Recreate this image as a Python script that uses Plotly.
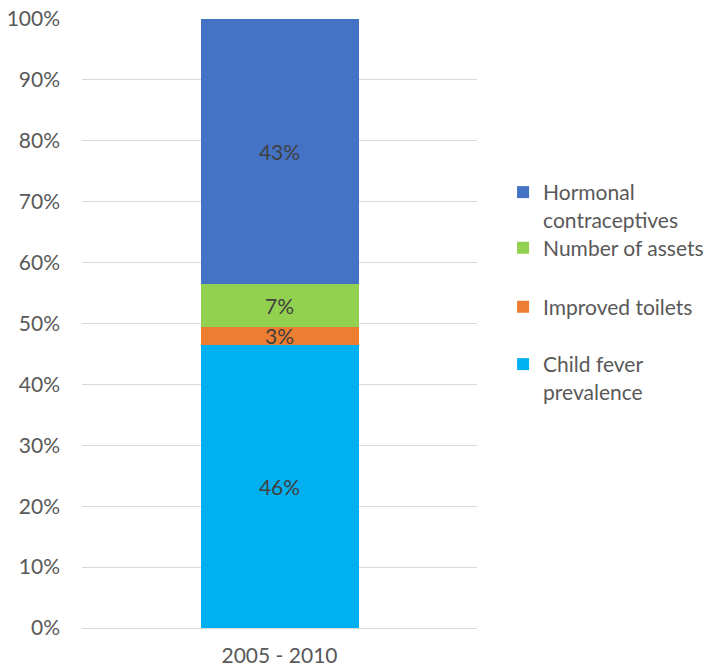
import plotly.graph_objects as go

periods = ["2005 - 2010"]
series_names = ["Child fever<br>prevalence", "Improved toilets", "Number of assets", "Hormonal<br>contraceptives"]
series_values = [[46], [3], [7], [43]]
series_colors = ["#00B0F0", "#ED7D31", "#92D050", "#4472C4"]

# one legend box per series so each entry can be placed on its own row
legend_ids = ["legend4", "legend3", "legend2", "legend"]
legend_y = [0.4105, 0.527, 0.624, 0.693]

FONT = "Lato"
SIZE = 21

fig = go.Figure()
for name, vals, color, lid in zip(series_names, series_values, series_colors, legend_ids):
    fig.add_trace(go.Bar(
        x=periods,
        y=vals,
        name=name,
        legend=lid,
        marker=dict(color=color, line=dict(width=0)),
        text=[f"{v}%" for v in vals],
        textposition="inside",
        insidetextanchor="middle",
        textangle=0,
        textfont=dict(color="#404040", size=SIZE, family=FONT),
        hoverinfo="skip",
    ))

legend_style = dict(
    x=1.066,
    xanchor="left",
    yanchor="middle",
    valign="top",
    font=dict(family=FONT, size=SIZE, color="#595959"),
    itemwidth=30,
    bgcolor="rgba(0,0,0,0)",
)

fig.update_layout(
    barmode="stack",
    barnorm="percent",
    bargap=0.6,
    width=713,
    height=668,
    margin=dict(l=82, r=236, t=19, b=40, autoexpand=False),
    plot_bgcolor="white",
    paper_bgcolor="white",
    font=dict(family=FONT, color="#595959", size=SIZE),
    uniformtext=dict(mode="show", minsize=SIZE),
    showlegend=True,
)
for lid, ly in zip(legend_ids, legend_y):
    fig.update_layout({lid: dict(legend_style, y=ly)})

fig.update_yaxes(
    range=[0, 100],
    dtick=10,
    ticksuffix="%",
    showgrid=True,
    gridcolor="#D9D9D9",
    gridwidth=1,
    zeroline=False,
    showline=False,
    ticks="",
    automargin=False,
    ticklabelstandoff=21,
    tickfont=dict(family=FONT, size=SIZE, color="#595959"),
)
fig.update_xaxes(
    showline=True,
    linecolor="#D9D9D9",
    linewidth=1,
    ticks="",
    automargin=False,
    ticklabelstandoff=9,
    tickfont=dict(family=FONT, size=SIZE, color="#595959"),
)

fig.write_html("out.html")
